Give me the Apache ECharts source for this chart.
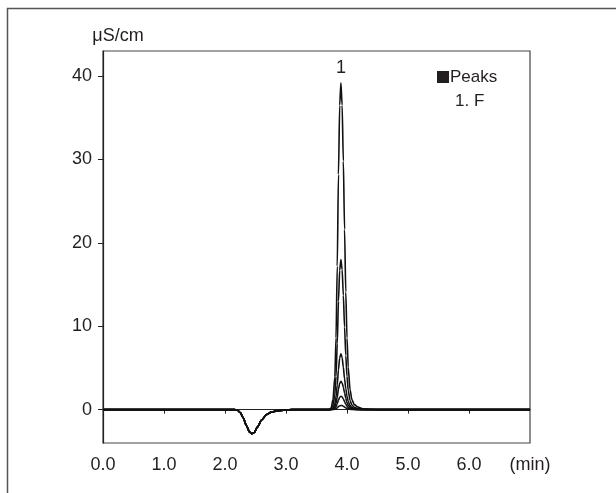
<!DOCTYPE html>
<html>
<head>
<meta charset="utf-8">
<script src="https://cdn.jsdelivr.net/npm/echarts@6/dist/echarts.min.js"></script>
<style>
html,body{margin:0;padding:0;background:#fff;}
#main{width:616px;height:493px;}
</style>
</head>
<body>
<div id="main"></div>
<script>
//基线部分（所有曲线共用，含2.4min处的负峰）
var baseTime=[0,2.15,2.2,2.25,2.3,2.35,2.4,2.44,2.48,2.53,2.6,2.68,2.76,2.85,3.0,3.1];
var baseVal=[0,0,-0.05,-0.35,-1.0,-1.9,-2.65,-2.9,-2.75,-2.1,-1.25,-0.6,-0.3,-0.15,-0.05,0];
//峰1（F）附近的时间点
var peakTime=[3.70,3.74,3.77,3.80,3.82,3.84,3.86,3.88,3.90,3.92,3.94,3.96,3.98,4.00,4.02,4.05,4.08,4.12,4.18,4.26,4.40,4.60];
//各浓度的峰值
var trace1=[0,0.2,1.2,3.9,8.6,17.2,28.2,36.5,39.2,36.5,29.8,21.6,14.1,8.6,5.1,2.4,1.2,0.6,0.3,0.1,0.04,0];
var trace2=[0,0.1,0.5,1.8,4.0,7.9,13.0,16.7,18.0,16.8,13.7,9.9,6.5,4.0,2.3,1.1,0.55,0.27,0.13,0.05,0.02,0];
var trace3=[0,0.03,0.2,0.67,1.5,2.95,4.8,6.2,6.7,6.25,5.1,3.7,2.5,1.6,1.0,0.5,0.26,0.13,0.06,0.02,0.01,0];
var trace4=[0,0.02,0.1,0.34,0.75,1.5,2.45,3.15,3.4,3.2,2.7,2.0,1.35,0.85,0.52,0.26,0.13,0.07,0.03,0.01,0,0];
var trace5=[0,0.01,0.05,0.16,0.35,0.7,1.15,1.48,1.6,1.52,1.28,0.95,0.65,0.42,0.26,0.13,0.07,0.03,0.01,0,0,0];
var trace6=[0,0,0.02,0.05,0.11,0.22,0.36,0.46,0.5,0.48,0.41,0.31,0.21,0.14,0.09,0.04,0.02,0.01,0,0,0,0];
var endTime=7, endVal=0;
//刻度
var xLabels=[0,1,2,3,4,5,6,7];
var xTicks=[0,1,2,3,4,5,6];
var yTicks=[0,10,20,30,40];

var font='Liberation Sans';
var ink='#231f20';

//拼接一条曲线的数据
function makeData(peak){
    var d=[];
    for(var i=0;i<baseTime.length;i++){
        d.push([baseTime[i],baseVal[i]]);
    }
    for(var j=0;j<peakTime.length;j++){
        d.push([peakTime[j],peak[j]]);
    }
    d.push([endTime,endVal]);
    return d;
}

var traces=[trace1,trace2,trace3,trace4,trace5,trace6];
var series=[];
for(var k=0;k<traces.length;k++){
    var s={
        type:'line',
        data:makeData(traces[k]),
        showSymbol:false,
        symbol:'none',
        smooth:0.25,
        smoothMonotone:'x',
        silent:true,
        lineStyle:{color:'#111',width:1.6},
        z:10-k
    };
    if(k==0){
        s.markPoint={
            symbol:'circle',
            symbolSize:0,
            silent:true,
            data:[{coord:[3.90,39.2]}],
            label:{show:true,position:'top',distance:6,formatter:'1',
                fontFamily:font,fontSize:18,color:ink}
        };
    }
    series.push(s);
}

var myChart=echarts.init(document.getElementById('main'));
var option={
    animation:false,
    backgroundColor:'#fff',
    grid:{
        left:103,
        right:86,
        top:51,
        bottom:50,
        show:true,
        borderColor:'#444',
        borderWidth:1.2
    },
    xAxis:{
        type:'value',
        min:0,
        max:7,
        axisLine:{lineStyle:{color:ink,width:1.2}},
        axisTick:{show:true,length:4,customValues:xTicks,lineStyle:{color:ink}},
        axisLabel:{
            customValues:xLabels,
            margin:13,
            fontFamily:font,
            fontSize:18,
            color:ink,
            showMinLabel:true,
            showMaxLabel:true,
            hideOverlap:false,
            formatter:function(v){
                return v==7?'(min)':v.toFixed(1);
            }
        },
        splitLine:{show:false}
    },
    yAxis:{
        type:'value',
        min:-4,
        max:43,
        name:'μS/cm',
        nameLocation:'end',
        nameGap:6,
        nameTextStyle:{fontFamily:font,fontSize:18,color:ink,align:'center',padding:[0,0,0,30]},
        axisLine:{show:true,lineStyle:{color:ink,width:1.2}},
        axisTick:{show:true,length:5,customValues:yTicks,lineStyle:{color:ink}},
        axisLabel:{customValues:yTicks,margin:11,fontFamily:font,fontSize:18,color:ink},
        splitLine:{show:false}
    },
    graphic:[
        //外框
        {type:'rect',shape:{x:7.5,y:8.5,width:700,height:600},
            style:{fill:'none',stroke:'#555',lineWidth:1.5},silent:true},
        //图例
        {type:'rect',shape:{x:437,y:71,width:12,height:12},style:{fill:ink},silent:true},
        {type:'text',x:450,y:77,style:{text:'Peaks',fontFamily:font,fontSize:17,fill:ink,verticalAlign:'middle'}},
        {type:'text',x:455,y:101,style:{text:'1. F',fontFamily:font,fontSize:17,fill:ink,verticalAlign:'middle'}}
    ],
    series:series
};
myChart.setOption(option);
</script>
</body>
</html>
